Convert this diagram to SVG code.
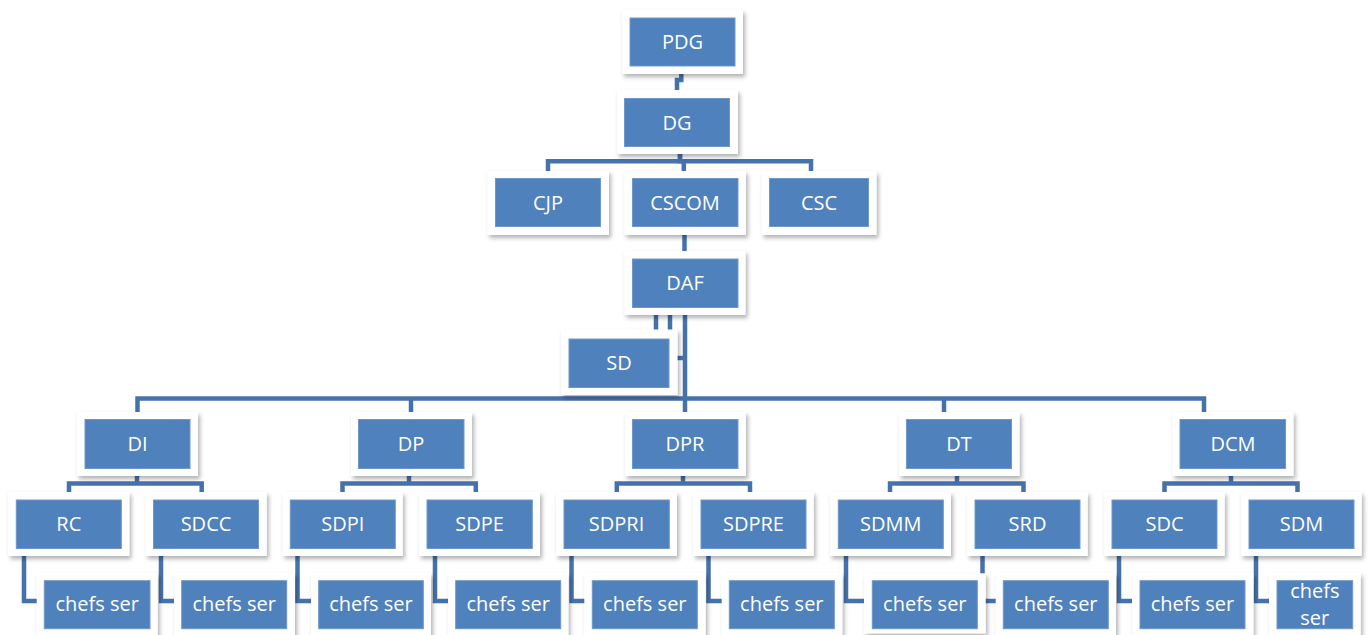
<svg xmlns="http://www.w3.org/2000/svg" width="1368" height="635" viewBox="0 0 1368 635">
<defs>
<filter id="sh" x="-10%" y="-10%" width="125%" height="130%">
<feDropShadow dx="2" dy="3" stdDeviation="2.2" flood-color="#000" flood-opacity="0.3"/>
</filter>
</defs>
<style>
.o{fill:#ffffff;filter:url(#sh)}
.i{fill:#4F81BD;stroke:#6F97C9;stroke-width:1}
.t{fill:#ffffff;font-family:"Open Sans","Liberation Sans",sans-serif;font-size:20px;text-anchor:middle}
.c{fill:none;stroke:#4672AC;stroke-width:4.5;stroke-linejoin:miter}
</style>
<rect width="1368" height="635" fill="#ffffff"/>
<g id="connectors">
<path class="c" d="M681.3,74 V80 H677 V90"/>
<path class="c" d="M680,154 V161.3 H548 V171"/>
<path class="c" d="M680,154 V161.3 H811 V171"/>
<path class="c" d="M683.8,161.3 V171"/>
<path class="c" d="M684.5,235 V251"/>
<path class="c" d="M656,315 V330"/>
<path class="c" d="M670,315 V330"/>
<path class="c" d="M685,315 V412"/>
<path class="c" d="M677,358 H685"/>
<path class="c" d="M685,398.5 H137.5 V412"/>
<path class="c" d="M685,398.5 H1204 V412"/>
<path class="c" d="M411,398.5 V412"/>
<path class="c" d="M944,398.5 V412"/>
<path class="c" d="M137,476 V483.5 H69 V492 M137,476 V483.5 H201.7 V492"/>
<path class="c" d="M409,476 V483.5 H342.5 V492 M409,476 V483.5 H475.8 V492"/>
<path class="c" d="M683,476 V483.5 H616.8 V492 M683,476 V483.5 H750 V492"/>
<path class="c" d="M957,476 V483.5 H890 V492 M957,476 V483.5 H1023.5 V492"/>
<path class="c" d="M1231,476 V483.5 H1164.5 V492 M1231,476 V483.5 H1297.5 V492"/>
<path class="c" d="M24,556 V601 H37"/>
<path class="c" d="M161,556 V601 H174"/>
<path class="c" d="M297.5,556 V601 H311"/>
<path class="c" d="M435,556 V601 H448"/>
<path class="c" d="M571.5,556 V601 H585"/>
<path class="c" d="M708.5,556 V601 H722"/>
<path class="c" d="M846,556 V601 H864"/>
<path class="c" d="M982.5,556 V601 H996"/>
<path class="c" d="M1119,556 V601 H1132"/>
<path class="c" d="M1256,556 V601 H1269"/>
</g>
<g id="PDG"><rect class="o" x="622" y="10" width="121" height="64"/><rect class="i" x="630" y="18" width="105" height="48"/><text class="t" x="682.5" y="49">PDG</text></g>
<g id="DG"><rect class="o" x="617" y="90" width="121" height="64"/><rect class="i" x="624.5" y="98.5" width="105" height="48"/><text class="t" x="677" y="129.5">DG</text></g>
<g id="CJP"><rect class="o" x="487.5" y="171" width="121.5" height="64"/><rect class="i" x="495.5" y="178.5" width="105" height="48"/><text class="t" x="548" y="209.5">CJP</text></g>
<g id="CSCOM"><rect class="o" x="624.5" y="171" width="121.5" height="64"/><rect class="i" x="632.5" y="178.5" width="105.5" height="48"/><text class="t" x="685" y="209.5">CSCOM</text></g>
<g id="CSC"><rect class="o" x="761.5" y="171" width="115" height="64"/><rect class="i" x="769.5" y="178.5" width="99" height="48"/><text class="t" x="819" y="209.5">CSC</text></g>
<g id="DAF"><rect class="o" x="624.5" y="251" width="121" height="64"/><rect class="i" x="632.5" y="259" width="105.5" height="48.5"/><text class="t" x="685" y="290">DAF</text></g>
<g id="SD"><rect class="o" x="561" y="329.5" width="116.5" height="65.5"/><rect class="i" x="569" y="339" width="100" height="48.5"/><text class="t" x="619" y="370">SD</text></g>
<g id="DI"><rect class="o" x="77" y="412" width="121" height="64"/><rect class="i" x="85" y="419.5" width="105" height="49"/><text class="t" x="137.5" y="451">DI</text></g>
<g id="DP"><rect class="o" x="351" y="412" width="121" height="64"/><rect class="i" x="358.5" y="419.5" width="105.5" height="49"/><text class="t" x="411" y="451">DP</text></g>
<g id="DPR"><rect class="o" x="625" y="412" width="121" height="64"/><rect class="i" x="632.5" y="419.5" width="105.5" height="49"/><text class="t" x="685" y="451">DPR</text></g>
<g id="DT"><rect class="o" x="899" y="412" width="120.5" height="64"/><rect class="i" x="906.5" y="419.5" width="105" height="49"/><text class="t" x="959" y="451">DT</text></g>
<g id="DCM"><rect class="o" x="1172.5" y="412" width="121" height="64"/><rect class="i" x="1180" y="419.5" width="105.5" height="49"/><text class="t" x="1233" y="451">DCM</text></g>
<g id="RC"><rect class="o" x="8.3" y="492" width="121" height="64"/><rect class="i" x="16.3" y="500" width="105" height="48.5"/><text class="t" x="68.8" y="531">RC</text></g>
<g id="SDCC"><rect class="o" x="145.7" y="492" width="121" height="64"/><rect class="i" x="153.5" y="500" width="105" height="48.5"/><text class="t" x="206" y="531">SDCC</text></g>
<g id="SDPI"><rect class="o" x="282.7" y="492" width="120" height="64"/><rect class="i" x="290.3" y="500" width="105" height="48.5"/><text class="t" x="342.8" y="531">SDPI</text></g>
<g id="SDPE"><rect class="o" x="419" y="492" width="121" height="64"/><rect class="i" x="427" y="500" width="105.3" height="48.5"/><text class="t" x="479.6" y="531">SDPE</text></g>
<g id="SDPRI"><rect class="o" x="556" y="492" width="121" height="64"/><rect class="i" x="564" y="500" width="105.3" height="48.5"/><text class="t" x="616.6" y="531">SDPRI</text></g>
<g id="SDPRE"><rect class="o" x="693.3" y="492" width="120.4" height="64"/><rect class="i" x="701" y="500" width="105" height="48.5"/><text class="t" x="753.5" y="531">SDPRE</text></g>
<g id="SDMM"><rect class="o" x="830" y="492" width="121" height="64"/><rect class="i" x="838.3" y="500" width="105" height="48.5"/><text class="t" x="890.8" y="531">SDMM</text></g>
<g id="SRD"><rect class="o" x="967.3" y="492" width="120.4" height="64"/><rect class="i" x="975" y="500" width="105" height="48.5"/><text class="t" x="1027.5" y="531">SRD</text></g>
<g id="SDC"><rect class="o" x="1104.3" y="492" width="120.4" height="64"/><rect class="i" x="1112" y="500" width="105" height="48.5"/><text class="t" x="1164.5" y="531">SDC</text></g>
<g id="SDM"><rect class="o" x="1241" y="492" width="120.7" height="64"/><rect class="i" x="1249" y="500" width="105" height="48.5"/><text class="t" x="1301.5" y="531">SDM</text></g>
<g id="CS1"><rect class="o" x="36.7" y="573" width="121" height="70"/><rect class="i" x="44.3" y="580.7" width="105.7" height="48"/><text class="t" x="97.2" y="611">chefs ser</text></g>
<g id="CS2"><rect class="o" x="174" y="573" width="121" height="70"/><rect class="i" x="181.7" y="580.7" width="105" height="48"/><text class="t" x="234.2" y="611">chefs ser</text></g>
<g id="CS3"><rect class="o" x="311" y="573" width="120" height="70"/><rect class="i" x="318.7" y="580.7" width="104.6" height="48"/><text class="t" x="371" y="611">chefs ser</text></g>
<g id="CS4"><rect class="o" x="448.3" y="573" width="120" height="70"/><rect class="i" x="455.7" y="580.7" width="105" height="48"/><text class="t" x="508.2" y="611">chefs ser</text></g>
<g id="CS5"><rect class="o" x="584.3" y="573" width="121.4" height="70"/><rect class="i" x="592.3" y="580.7" width="105" height="48"/><text class="t" x="644.8" y="611">chefs ser</text></g>
<g id="CS6"><rect class="o" x="721.7" y="573" width="120.6" height="70"/><rect class="i" x="729.3" y="580.7" width="105" height="48"/><text class="t" x="781.8" y="611">chefs ser</text></g>
<g id="CS7"><rect class="o" x="864.3" y="573.3" width="121.4" height="60"/><rect class="i" x="872.3" y="580.7" width="105" height="48"/><text class="t" x="924.8" y="611">chefs ser</text></g>
<g id="CS8"><rect class="o" x="995.7" y="573" width="120.3" height="70"/><rect class="i" x="1003.3" y="580.7" width="105" height="48"/><text class="t" x="1055.8" y="611">chefs ser</text></g>
<g id="CS9"><rect class="o" x="1132.3" y="573" width="121" height="70"/><rect class="i" x="1140" y="580.7" width="105" height="48"/><text class="t" x="1192.5" y="611">chefs ser</text></g>
<g id="CS10"><rect class="o" x="1269.3" y="573" width="91.4" height="70"/><rect class="i" x="1277" y="580.7" width="75.7" height="48"/><text class="t" x="1314.8" y="598">chefs</text><text class="t" x="1314.8" y="624.5">ser</text></g>
</svg>
